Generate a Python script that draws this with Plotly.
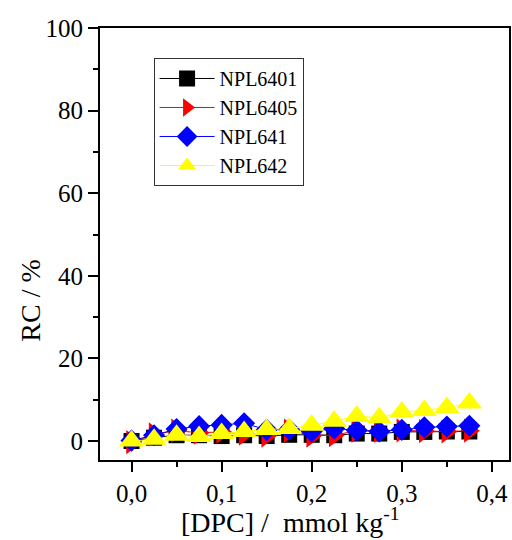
import plotly.graph_objects as go

# DPC concentration (mmol/kg)
dpc = [0.0, 0.025, 0.05, 0.075, 0.1, 0.125, 0.15, 0.175,
       0.2, 0.225, 0.25, 0.275, 0.3, 0.325, 0.35, 0.375]

# RC (%) for each sample
rc_npl6401 = [0.0, 0.8, 1.4, 1.4, 1.2, 1.4, 1.2, 1.5, 1.5, 1.4, 1.8, 1.8, 2.2, 2.2, 2.3, 2.3]
rc_npl6405 = [-0.3, 1.6, 2.5, 2.0, 2.2, 1.8, 1.3, 2.5, 1.3, 1.4, 2.5, 2.5, 2.6, 2.4, 2.3, 2.5]
rc_npl641 = [0.1, 1.4, 2.9, 3.6, 3.9, 4.3, 2.7, 2.8, 2.3, 3.0, 2.6, 2.3, 2.7, 3.3, 3.5, 3.7]
rc_npl642 = [0.0, 0.4, 1.4, 1.1, 1.8, 2.3, 2.8, 3.0, 3.8, 4.8, 6.0, 5.6, 7.0, 7.4, 8.1, 9.2]

x_ticks = [0.0, 0.1, 0.2, 0.3, 0.4]
y_ticks = [0, 20, 40, 60, 80, 100]

series = [
    ("NPL6401", rc_npl6401, "#000000", "square", 16),
    ("NPL6405", rc_npl6405, "#ff0000", "triangle-right", 21),
    ("NPL641", rc_npl641, "#0000ff", "diamond", 17),
    ("NPL642", rc_npl642, "#ffff00", "triangle-up", 22),
]

FONT = "Liberation Serif"

fig = go.Figure()
for name, vals, color, symbol, size in series:
    fig.add_trace(go.Scatter(
        x=dpc, y=vals, name=name, mode="lines+markers",
        line=dict(color=color, width=1),
        marker=dict(symbol=symbol, size=size, color=color, line=dict(width=0)),
    ))

axis_common = dict(
    showline=True, linecolor="black", linewidth=2, mirror=True,
    ticks="outside", ticklen=10, tickwidth=2, tickcolor="black",
    showgrid=False, zeroline=False,
    tickfont=dict(family=FONT, size=25, color="black"),
)

fig.update_xaxes(
    range=[-0.035, 0.419], tickvals=x_ticks, tickformat=".1f",
    minor=dict(ticks="outside", ticklen=5, tickwidth=2, tickcolor="black",
               dtick=0.05, tick0=0, showgrid=False),
    **axis_common,
)
fig.update_yaxes(
    range=[-4.6, 100], tickvals=y_ticks,
    minor=dict(ticks="outside", ticklen=5, tickwidth=2, tickcolor="black",
               dtick=10, tick0=0, showgrid=False),
    **axis_common,
)

fig.add_annotation(
    text="[DPC] /\u00a0 mmol kg<sup>-1</sup>", xref="paper", yref="paper",
    x=0.465, y=-0.14, xanchor="center", yanchor="middle", showarrow=False,
    font=dict(family=FONT, size=28, color="black"),
)
fig.add_annotation(
    text="RC / %", xref="paper", yref="paper", textangle=-90,
    x=-0.17, y=0.37, xanchor="center", yanchor="middle", showarrow=False,
    font=dict(family=FONT, size=28, color="black"),
)

fig.update_layout(
    width=512, height=540,
    margin=dict(l=100, r=1, t=28, b=80),
    paper_bgcolor="white", plot_bgcolor="white",
    font=dict(family=FONT, color="black"),
    separators=",.",
    showlegend=True,
    legend=dict(
        x=0.131, y=0.9306, xanchor="left", yanchor="top",
        bgcolor="white", bordercolor="#333333", borderwidth=1,
        font=dict(family=FONT, size=20, color="black"),
        itemwidth=55, tracegroupgap=0,
    ),
)

fig.write_html("out.html")
